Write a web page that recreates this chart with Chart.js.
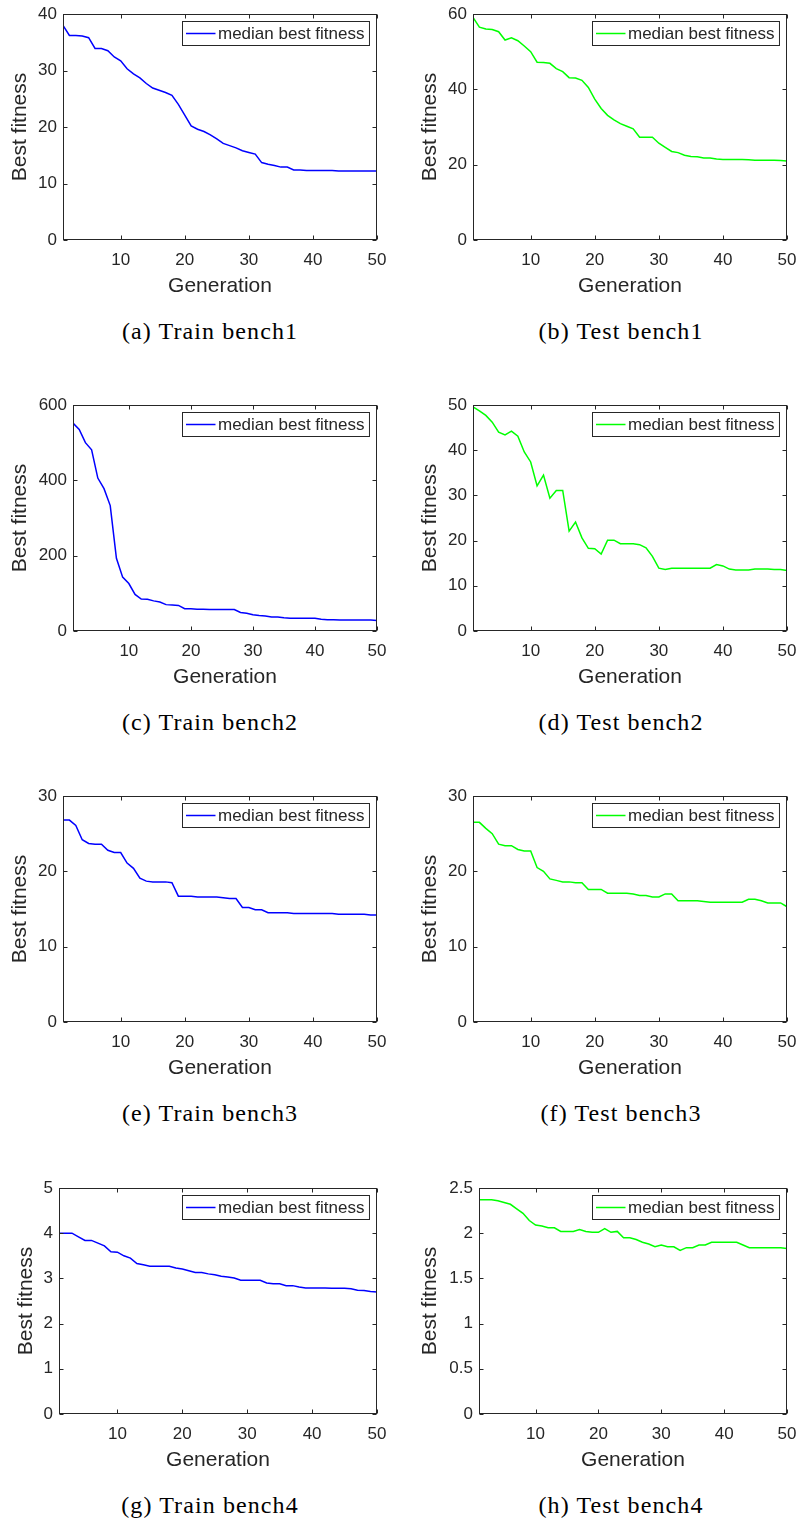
<!DOCTYPE html>
<html>
<head>
<meta charset="utf-8">
<script src="https://cdn.jsdelivr.net/npm/chart.js@4.4.1/dist/chart.umd.min.js"></script>
<style>
  html, body { margin: 0; padding: 0; background: #fff; }
  body { position: relative; width: 800px; height: 1524px; overflow: hidden; }
  canvas.panel { position: absolute; }
  .caption {
    position: absolute; width: 400px; text-align: center;
    font-family: 'Liberation Serif', 'Times New Roman', serif;
    font-size: 24px; line-height: 24px; letter-spacing: 1.1px;
    color: #000; white-space: nowrap;
  }
</style>
</head>
<body>
<script>
// Generations on the x axis
const generations = [
  1, 2, 3, 4, 5, 6, 7, 8, 9, 10, 11, 12, 13, 14, 15, 16, 17, 18, 19, 20,
  21, 22, 23, 24, 25, 26, 27, 28, 29, 30, 31, 32, 33, 34, 35, 36, 37, 38, 39, 40,
  41, 42, 43, 44, 45, 46, 47, 48, 49, 50
];

// Median best fitness per generation
const trainBench1 = [
  38.0, 36.2, 36.2, 36.1, 35.8, 33.9, 33.9, 33.5, 32.4, 31.7,
  30.3, 29.4, 28.7, 27.7, 26.9, 26.5, 26.1, 25.6, 24.0, 22.1,
  20.2, 19.6, 19.2, 18.6, 17.9, 17.1, 16.7, 16.3, 15.8, 15.5,
  15.2, 13.7, 13.4, 13.2, 12.9, 12.9, 12.4, 12.4, 12.3, 12.3,
  12.3, 12.3, 12.3, 12.2, 12.2, 12.2, 12.2, 12.2, 12.2, 12.2
];
const testBench1 = [
  59.1, 56.5, 56.0, 55.9, 55.3, 53.1, 53.7, 52.9, 51.5, 50.0,
  47.2, 47.1, 46.9, 45.5, 44.7, 43.1, 43.0, 42.4, 40.5, 37.4,
  34.9, 33.1, 31.9, 30.9, 30.2, 29.5, 27.3, 27.3, 27.3, 25.7,
  24.6, 23.5, 23.2, 22.5, 22.2, 22.1, 21.8, 21.8, 21.5, 21.4,
  21.4, 21.4, 21.4, 21.3, 21.2, 21.2, 21.2, 21.2, 21.1, 21.0
];
const trainBench2 = [
  552, 535, 500, 481, 406, 378, 333, 193, 143, 126,
  97, 85, 84, 80, 77, 70, 69, 68, 59, 59,
  58, 58, 57, 57, 57, 57, 57, 49, 47, 43,
  41, 40, 37, 37, 35, 34, 34, 34, 34, 34,
  31, 30, 30, 29, 29, 29, 29, 29, 29, 28
];
const testBench2 = [
  49.6, 48.7, 47.7, 46.2, 44.0, 43.4, 44.2, 43.1, 39.6, 37.4,
  32.1, 34.5, 29.4, 31.1, 31.1, 22.1, 24.1, 20.6, 18.3, 18.2,
  17.0, 20.1, 20.1, 19.3, 19.3, 19.3, 19.1, 18.4, 16.5, 13.9,
  13.6, 13.9, 13.9, 13.9, 13.9, 13.9, 13.9, 13.9, 14.7, 14.4,
  13.7, 13.5, 13.5, 13.5, 13.7, 13.7, 13.7, 13.6, 13.6, 13.4
];
const trainBench3 = [
  26.8, 26.8, 26.1, 24.2, 23.7, 23.6, 23.6, 22.8, 22.5, 22.5,
  21.1, 20.4, 19.1, 18.7, 18.6, 18.6, 18.6, 18.5, 16.7, 16.7,
  16.7, 16.6, 16.6, 16.6, 16.6, 16.5, 16.4, 16.4, 15.2, 15.2,
  14.9, 14.9, 14.5, 14.5, 14.5, 14.5, 14.4, 14.4, 14.4, 14.4,
  14.4, 14.4, 14.4, 14.3, 14.3, 14.3, 14.3, 14.3, 14.2, 14.2
];
const testBench3 = [
  26.5, 26.5, 25.7, 25.0, 23.6, 23.4, 23.4, 22.9, 22.7, 22.7,
  20.5, 20.0, 19.0, 18.8, 18.6, 18.6, 18.5, 18.5, 17.6, 17.6,
  17.6, 17.1, 17.1, 17.1, 17.1, 17.0, 16.8, 16.8, 16.6, 16.6,
  17.0, 17.0, 16.1, 16.1, 16.1, 16.1, 16.0, 15.9, 15.9, 15.9,
  15.9, 15.9, 15.9, 16.3, 16.3, 16.1, 15.8, 15.8, 15.8, 15.3
];
const trainBench4 = [
  4.00, 4.00, 4.00, 3.92, 3.84, 3.84, 3.78, 3.72, 3.59, 3.58,
  3.50, 3.45, 3.33, 3.30, 3.27, 3.27, 3.27, 3.27, 3.23, 3.21,
  3.17, 3.13, 3.13, 3.10, 3.08, 3.05, 3.03, 3.01, 2.96, 2.96,
  2.96, 2.96, 2.90, 2.88, 2.88, 2.84, 2.84, 2.81, 2.79, 2.79,
  2.79, 2.79, 2.78, 2.78, 2.78, 2.77, 2.74, 2.73, 2.71, 2.70
];
const testBench4 = [
  2.37, 2.37, 2.37, 2.36, 2.34, 2.32, 2.27, 2.22, 2.14, 2.09,
  2.08, 2.06, 2.06, 2.02, 2.02, 2.02, 2.04, 2.02, 2.01, 2.01,
  2.05, 2.01, 2.02, 1.95, 1.95, 1.93, 1.90, 1.88, 1.85, 1.87,
  1.85, 1.85, 1.81, 1.84, 1.84, 1.87, 1.87, 1.90, 1.90, 1.90,
  1.90, 1.90, 1.87, 1.84, 1.84, 1.84, 1.84, 1.84, 1.84, 1.83
];

// Tick labels
const xTicks = [10, 20, 30, 40, 50];
const yTicksTrain1 = [0, 10, 20, 30, 40];
const yTicksTest1 = [0, 20, 40, 60];
const yTicksTrain2 = [0, 200, 400, 600];
const yTicksTest2 = [0, 10, 20, 30, 40, 50];
const yTicksTrain3 = [0, 10, 20, 30];
const yTicksTest3 = [0, 10, 20, 30];
const yTicksTrain4 = [0, 1, 2, 3, 4, 5];
const yTicksTest4 = [0, 0.5, 1, 1.5, 2, 2.5];

const captions = [
  '(a) Train bench1', '(b) Test bench1',
  '(c) Train bench2', '(d) Test bench2',
  '(e) Train bench3', '(f) Test bench3',
  '(g) Train bench4', '(h) Test bench4'
];
const seriesLabel = 'median best fitness';
const xTitle = 'Generation';
const yTitle = 'Best fitness';

const TRAIN_COLOR = '#0000ff';
const TEST_COLOR = '#00ff00';
const INK = '#262626';
const TICK_LEN = 4;

// Panel layout: plot box edges in page pixels, y-title centre offset within its column
const rowTops = [14, 405, 796, 1188];
const PLOT_H = 226;
const panels = [
  { values: trainBench1, yTicks: yTicksTrain1, color: TRAIN_COLOR, col: 0, row: 0, left: 63, titleX: 20 },
  { values: testBench1,  yTicks: yTicksTest1,  color: TEST_COLOR,  col: 1, row: 0, left: 473, titleX: 30 },
  { values: trainBench2, yTicks: yTicksTrain2, color: TRAIN_COLOR, col: 0, row: 1, left: 73, titleX: 20 },
  { values: testBench2,  yTicks: yTicksTest2,  color: TEST_COLOR,  col: 1, row: 1, left: 473, titleX: 30 },
  { values: trainBench3, yTicks: yTicksTrain3, color: TRAIN_COLOR, col: 0, row: 2, left: 63, titleX: 20 },
  { values: testBench3,  yTicks: yTicksTest3,  color: TEST_COLOR,  col: 1, row: 2, left: 473, titleX: 30 },
  { values: trainBench4, yTicks: yTicksTrain4, color: TRAIN_COLOR, col: 0, row: 3, left: 59, titleX: 26 },
  { values: testBench4,  yTicks: yTicksTest4,  color: TEST_COLOR,  col: 1, row: 3, left: 479, titleX: 30 }
];
const captionCentres = [210, 621];

Chart.defaults.font.family = "'Liberation Sans', Arial, Helvetica, sans-serif";
Chart.defaults.color = INK;

// Axes box with inward ticks on all four sides, plus the boxed legend in the top-right corner
const boxedAxes = {
  id: 'boxedAxes',
  afterDatasetsDraw(chart) {
    const { ctx, chartArea: a, scales: { x, y } } = chart;
    ctx.save();
    ctx.strokeStyle = INK;
    ctx.lineWidth = 1;
    const L = Math.round(a.left) + 0.5, R = Math.round(a.right) - 0.5;
    const T = Math.round(a.top) + 0.5, B = Math.round(a.bottom) - 0.5;
    ctx.strokeRect(L, T, R - L, B - T);
    ctx.beginPath();
    x.ticks.forEach(t => {
      const px = Math.round(x.getPixelForValue(t.value)) + 0.5;
      ctx.moveTo(px, B); ctx.lineTo(px, B - TICK_LEN);
      ctx.moveTo(px, T); ctx.lineTo(px, T + TICK_LEN);
    });
    y.ticks.forEach(t => {
      const py = Math.round(y.getPixelForValue(t.value)) + 0.5;
      ctx.moveTo(L, py); ctx.lineTo(L + TICK_LEN, py);
      ctx.moveTo(R, py); ctx.lineTo(R - TICK_LEN, py);
    });
    ctx.stroke();

    const ds = chart.data.datasets[0];
    ctx.font = "17px 'Liberation Sans', Arial, sans-serif";
    const tw = ctx.measureText(ds.label).width;
    const padL = 3.5, lineLen = 29.5, gap = 2.5, padR = 5, bh = 24;
    const bw = padL + lineLen + gap + tw + padR;
    const bx = Math.round(R - 8 - bw) + 0.5, by = T + 7;
    ctx.fillStyle = '#fff';
    ctx.fillRect(bx, by, bw, bh);
    ctx.strokeStyle = INK;
    ctx.lineWidth = 1;
    ctx.strokeRect(bx, by, bw, bh);
    const cy = by + bh / 2;
    ctx.strokeStyle = ds.borderColor;
    ctx.lineWidth = 1.5;
    ctx.beginPath();
    ctx.moveTo(bx + padL, cy); ctx.lineTo(bx + padL + lineLen, cy);
    ctx.stroke();
    ctx.fillStyle = INK;
    ctx.textBaseline = 'middle';
    ctx.textAlign = 'left';
    ctx.fillText(ds.label, bx + padL + lineLen + gap, cy + 0.5);
    ctx.restore();
  }
};

const CANVAS_W = 400, CANVAS_H = 303, TOP_PAD = 14, X_AXIS_H = 63;
const TITLE_FONT = { size: 21 };
const TICK_FONT = { size: 17 };

panels.forEach((p, i) => {
  const colX = p.col * 400;
  const plotTop = rowTops[p.row];
  const plotRight = p.col === 0 ? 377 : 787;
  const padLeft = p.titleX - (TITLE_FONT.size * 1.2) / 2 - 4;
  const yAxisW = p.left - colX - padLeft;

  const canvas = document.createElement('canvas');
  canvas.className = 'panel';
  canvas.width = CANVAS_W;
  canvas.height = CANVAS_H;
  canvas.style.left = colX + 'px';
  canvas.style.top = (plotTop - TOP_PAD) + 'px';
  document.body.appendChild(canvas);

  const yMax = p.yTicks[p.yTicks.length - 1];
  new Chart(canvas, {
    type: 'line',
    data: {
      datasets: [{
        label: seriesLabel,
        data: generations.map((g, k) => ({ x: g, y: p.values[k] })),
        borderColor: p.color,
        backgroundColor: p.color,
        borderWidth: 1.5,
        pointRadius: 0,
        tension: 0,
        fill: false
      }]
    },
    options: {
      responsive: false,
      animation: false,
      devicePixelRatio: 1,
      layout: { padding: { top: TOP_PAD, left: padLeft, right: colX + CANVAS_W - plotRight, bottom: 0 } },
      plugins: { legend: { display: false }, tooltip: { enabled: false } },
      scales: {
        x: {
          type: 'linear',
          min: generations[0],
          max: generations[generations.length - 1],
          grid: { display: false, drawTicks: false },
          border: { display: false },
          ticks: { font: TICK_FONT, padding: 10, maxRotation: 0, color: INK },
          afterBuildTicks: s => { s.ticks = xTicks.map(v => ({ value: v })); },
          afterFit: s => { s.height = X_AXIS_H; s.paddingLeft = 0; s.paddingRight = 0; },
          title: { display: true, text: xTitle, font: TITLE_FONT, color: INK, padding: { top: 0, bottom: 4 } }
        },
        y: {
          type: 'linear',
          min: p.yTicks[0],
          max: yMax,
          grid: { display: false, drawTicks: false },
          border: { display: false },
          ticks: { font: TICK_FONT, padding: 6, color: INK, callback: v => String(v) },
          afterBuildTicks: s => { s.ticks = p.yTicks.map(v => ({ value: v })); },
          afterFit: s => { s.width = yAxisW; s.paddingTop = 0; s.paddingBottom = 0; },
          title: { display: true, text: yTitle, font: TITLE_FONT, color: INK, padding: { top: 4, bottom: 0 } }
        }
      }
    },
    plugins: [boxedAxes]
  });

  const cap = document.createElement('div');
  cap.className = 'caption';
  cap.textContent = captions[i];
  cap.style.left = (captionCentres[p.col] - 200) + 'px';
  cap.style.top = (plotTop + PLOT_H + 99 - 20) + 'px';
  document.body.appendChild(cap);
});
</script>
</body>
</html>
